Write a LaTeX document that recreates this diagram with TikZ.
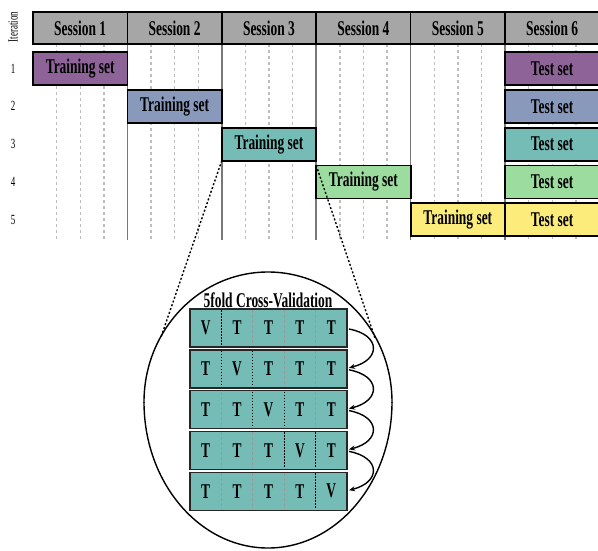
\documentclass[tikz,border=0pt]{standalone}
\usepackage{fontspec}
\setmainfont{Liberation Serif}[FakeStretch=0.64]
\usetikzlibrary{arrows.meta}
\definecolor{hdr}{RGB}{166,166,166}
\definecolor{cpurple}{RGB}{142,100,152}
\definecolor{cblue}{RGB}{137,153,188}
\definecolor{cteal}{RGB}{118,188,182}
\definecolor{cgreen}{RGB}{156,220,158}
\definecolor{cyellow}{RGB}{252,236,124}
\definecolor{gridg}{RGB}{120,120,120}
\definecolor{gridl}{RGB}{190,190,190}
\begin{document}
\begin{tikzpicture}[x=1pt,y=-1pt,
  bigfont/.style={font=\bfseries\fontsize{21}{21}\selectfont},
  hcell/.style={draw=black, line width=1.6pt, fill=hdr, minimum width=94.4pt, minimum height=32pt, inner sep=0pt, outer sep=0pt, anchor=north west, bigfont},
  bar/.style={draw=black, line width=1.8pt, minimum width=94.4pt, minimum height=33pt, inner sep=0pt, outer sep=0pt, anchor=north west, bigfont},
  numlbl/.style={font=\fontsize{14}{14}\selectfont, inner sep=0pt},
  gridsolid/.style={draw=gridg, line width=1.5pt},
  griddash/.style={draw=gridl, line width=1.4pt, dash pattern=on 3pt off 3pt},
  zoomline/.style={draw=black, line width=1.4pt, dash pattern=on 2pt off 2pt},
  cvrow/.style={draw=black!85, line width=1.4pt, fill=cteal, minimum width=157pt, minimum height=38pt, inner sep=0pt, outer sep=0pt, anchor=north west},
  cvl/.style={bigfont, inner sep=0pt},
  sepg/.style={draw=black!40, line width=0.8pt, dash pattern=on 3pt off 2pt},
  sepk/.style={draw=black, line width=1.1pt, dash pattern=on 1.5pt off 1.5pt},
  cvarrow/.style={draw=black, line width=1.4pt, -{Stealth[length=6pt,width=5pt]}},
  egg/.style={draw=black, line width=1.4pt}
]
\useasboundingbox (0,0) rectangle (598,550);

% grid lines
\foreach \c in {0,...,5}{
  \foreach \k in {1,2,3}{
    \draw[griddash] ({33+94.4*\c+23.6*\k},44) -- ({33+94.4*\c+23.6*\k},240);
  }
}
\foreach \c in {1,...,5}{
  \draw[gridsolid] ({33+94.4*\c},44) -- ({33+94.4*\c},240);
}

% header
\foreach \c in {1,...,6}{
  \node[hcell] (h\c) at ({33+94.4*(\c-1)},12) {Session \c};
}

% iteration labels
\node[numlbl, rotate=90] (itl) at (13,27) {Iteration};
\foreach \i in {1,...,5}{
  \node[numlbl] (n\i) at (13,{68.5+37.8*(\i-1)}) {\i};
}

% training and test bars
\node[bar, fill=cpurple] (tr1) at (33,52) {Training set};
\node[bar, fill=cblue]   (tr2) at (127.4,89.8) {Training set};
\node[bar, fill=cteal]   (tr3) at (221.8,127.6) {Training set};
\node[bar, fill=cgreen]  (tr4) at (316.2,165.4) {Training set};
\node[bar, fill=cyellow] (tr5) at (410.6,203.2) {Training set};

\node[bar, fill=cpurple] (ts1) at (505,52) {Test set};
\node[bar, fill=cblue]   (ts2) at (505,89.8) {Test set};
\node[bar, fill=cteal]   (ts3) at (505,127.6) {Test set};
\node[bar, fill=cgreen]  (ts4) at (505,165.4) {Test set};
\node[bar, fill=cyellow] (ts5) at (505,203.2) {Test set};

% egg-shaped ellipse
\begin{scope}
  \clip (0,0) rectangle (598,402);
  \draw[egg] (268,402) ellipse [x radius=124pt, y radius=130pt];
\end{scope}
\begin{scope}
  \clip (0,402) rectangle (598,550);
  \draw[egg] (268,402) ellipse [x radius=124pt, y radius=146pt];
\end{scope}

% zoom lines
\coordinate (zl) at (161,337);
\coordinate (zr) at (375,338);
\draw[zoomline] (tr3.south west) -- (zl);
\draw[zoomline] (tr4.north west) -- (zr);

% title
\node[cvl] (cvt) at (268,300) {5fold Cross-Validation};

% cross validation rows
\foreach \r in {1,...,5}{
  \node[cvrow] (cv\r) at (190,{309+40.8*(\r-1)}) {};
}
% separators
\foreach \r/\a/\b/\cc/\d in {1/k/g/g/g, 2/k/k/g/g, 3/g/k/k/g, 4/g/g/k/k, 5/g/g/g/k}{
  \pgfmathsetmacro{\yt}{309+40.8*(\r-1)+1}
  \pgfmathsetmacro{\yb}{309+40.8*(\r-1)+37}
  \draw[sep\a]  (221.4,\yt) -- (221.4,\yb);
  \draw[sep\b]  (252.8,\yt) -- (252.8,\yb);
  \draw[sep\cc] (284.2,\yt) -- (284.2,\yb);
  \draw[sep\d]  (315.6,\yt) -- (315.6,\yb);
}
% letters
\foreach \r in {1,...,5}{
  \foreach \j in {1,...,5}{
    \pgfmathsetmacro{\yc}{309+40.8*(\r-1)+19}
    \pgfmathsetmacro{\xc}{190+31.4*(\j-0.5)}
    \ifnum\r=\j
      \node[cvl] (l\r\j) at (\xc,\yc) {V};
    \else
      \node[cvl] (l\r\j) at (\xc,\yc) {T};
    \fi
  }
}

% curved arrows
\foreach \r/\s in {1/2,2/3,3/4,4/5}{
  \draw[cvarrow] ([xshift=2pt,yshift=-1pt]cv\r.east) .. controls +(32,6) and +(32,-8) .. ([xshift=2pt,yshift=1pt]cv\s.east);
}
\end{tikzpicture}
\end{document}
